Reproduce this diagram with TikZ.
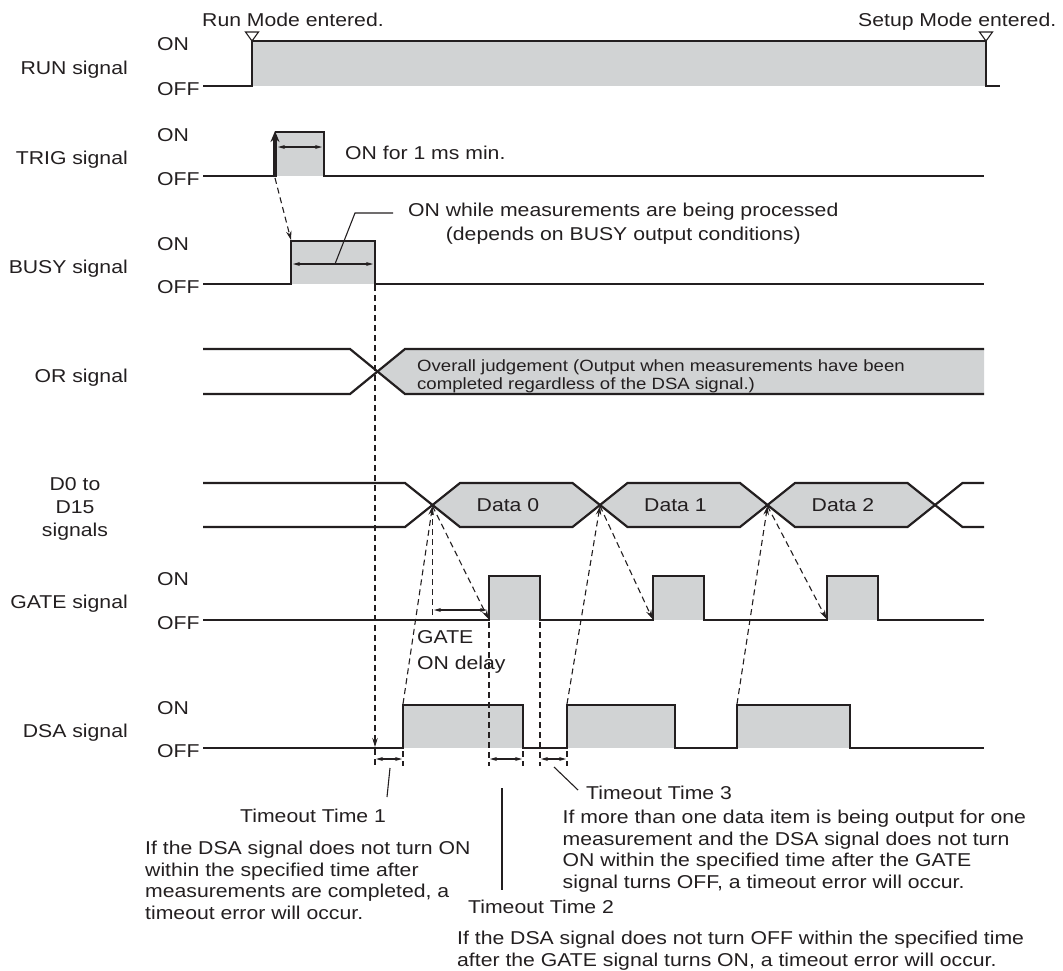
\documentclass[tikz,border=0pt]{standalone}
\usepackage{fontspec}
\setmainfont{Liberation Sans}
\usepackage{graphicx}
\usetikzlibrary{arrows.meta}
\definecolor{ink}{HTML}{231F20}
\definecolor{fillg}{HTML}{D1D3D4}
\newcommand{\sx}[1]{\scalebox{1.14}[1]{#1}}
\newcommand{\parl}[1]{\sx{\begin{tabular}[t]{@{}l@{}}#1\end{tabular}}}
\newcommand{\parc}[1]{\sx{\begin{tabular}[t]{@{}c@{}}#1\end{tabular}}}
\begin{document}
\begin{tikzpicture}[x=1pt,y=-1pt,
  sig/.style={draw=ink, line width=2.2pt, line join=miter},
  dsh/.style={draw=ink, line width=1.1pt, dash pattern=on 6pt off 4pt},
  dar/.style={dsh, -{Stealth[length=9pt,width=5.5pt]}},
  meas/.style={draw=ink, line width=1.1pt, {Stealth[length=7pt,width=4pt]}-{Stealth[length=7pt,width=4pt]}},
  lead/.style={draw=ink, line width=1.1pt},
  txt/.style={anchor=base west, inner sep=0pt, font=\fontsize{18.6}{21.5}\selectfont, text=ink},
  signame/.style={txt, anchor=base east},
  smalltxt/.style={txt, font=\fontsize{16.3}{18}\selectfont},
  modemark/.style={draw=ink, line width=1.1pt, fill=white}
]
\useasboundingbox (0,0) rectangle (1063,970);

% ---------- fills ----------
\fill[fillg] (252,41) rectangle (986,86);
\fill[fillg] (275,132) rectangle (324,176);
\fill[fillg] (291,241) rectangle (375,284);
\fill[fillg] (377.5,371.5) -- (405,349) -- (984,349) -- (984,394) -- (405,394) -- cycle;
\fill[fillg] (432.5,505) -- (460,483) -- (572.5,483) -- (600,505) -- (572.5,527) -- (460,527) -- cycle;
\fill[fillg] (600,505) -- (627.5,483) -- (740,483) -- (767.5,505) -- (740,527) -- (627.5,527) -- cycle;
\fill[fillg] (767.5,505) -- (795,483) -- (907.5,483) -- (935,505) -- (907.5,527) -- (795,527) -- cycle;
\fill[fillg] (489,576) rectangle (540,620);
\fill[fillg] (653,576) rectangle (704,620);
\fill[fillg] (827,576) rectangle (878,620);
\fill[fillg] (403,705) rectangle (523,748);
\fill[fillg] (567,705) rectangle (675,748);
\fill[fillg] (737,705) rectangle (850,748);

% ---------- named points ----------
\coordinate (trigrise) at (275,178);
\coordinate (busyrise) at (291,240);
\coordinate (busyfall) at (375,285);
\coordinate (dsaoff) at (375,747);
\coordinate (c0) at (432.5,506);
\coordinate (c1) at (600,506);
\coordinate (c2) at (767.5,506);
\coordinate (g0) at (488.5,619);
\coordinate (g1) at (652.5,619);
\coordinate (g2) at (826.5,619);
\coordinate (d0) at (403,704);
\coordinate (d1) at (567,704);
\coordinate (d2) at (737,704);

% ---------- dashed connectors ----------
\draw[dar] (trigrise) -- (busyrise);
\draw[dar] (busyfall) -- (dsaoff);
\draw[dsh] (375,749) -- (375,766);
\draw[dar] (d0) -- (c0);
\draw[dar] (d1) -- (c1);
\draw[dar] (d2) -- (c2);
\draw[dar] (c0) -- (g0);
\draw[dar] (c1) -- (g1);
\draw[dar] (c2) -- (g2);
\draw[dsh] (432.5,509) -- (432.5,620);
\draw[dsh] (489,622) -- (489,766);
\draw[dsh] (540,622) -- (540,766);
\draw[dsh] (403,751) -- (403,766);
\draw[dsh] (523,751) -- (523,766);
\draw[dsh] (567,751) -- (567,766);

% ---------- measurement arrows ----------
\draw[meas] (278,147) -- (322,147);
\draw[meas] (293,264) -- (373,264);
\draw[meas] (434,610) -- (487,610);
\draw[meas] (376,759) -- (402,759);
\draw[meas] (490,759) -- (522,759);
\draw[meas] (541,759) -- (566,759);

% ---------- signals ----------
\draw[sig] (203,86) -- (252,86) -- (252,41) -- (986,41) -- (986,86) -- (1000,86);
\draw[sig] (203,176) -- (275,176) (275,132) -- (324,132) -- (324,176) -- (984,176);
\draw[ink, line width=3.4pt, -{Stealth[length=11pt,width=9pt]}] (275,177) -- (275,131);
\draw[sig] (203,284) -- (291,284) -- (291,241) -- (375,241) -- (375,284) -- (984,284);
\draw[sig] (203,349) -- (350,349) -- (405,394) -- (984,394);
\draw[sig] (203,394) -- (350,394) -- (405,349) -- (984,349);
\draw[sig] (203,483) -- (405,483) -- (460,527) -- (572.5,527) -- (627.5,483) -- (740,483) -- (795,527) -- (907.5,527) -- (962.5,483) -- (984,483);
\draw[sig] (203,527) -- (405,527) -- (460,483) -- (572.5,483) -- (627.5,527) -- (740,527) -- (795,483) -- (907.5,483) -- (962.5,527) -- (984,527);
\draw[sig] (203,620) -- (489,620) -- (489,576) -- (540,576) -- (540,620) -- (653,620) -- (653,576) -- (704,576) -- (704,620) -- (827,620) -- (827,576) -- (878,576) -- (878,620) -- (984,620);
\draw[sig] (203,748) -- (403,748) -- (403,705) -- (523,705) -- (523,748) -- (567,748) -- (567,705) -- (675,705) -- (675,748) -- (737,748) -- (737,705) -- (850,705) -- (850,748) -- (984,748);

% mode markers
\draw[modemark] (245.5,32) -- (258.5,32) -- (252,41) -- cycle;
\draw[modemark] (979.5,32) -- (992.5,32) -- (986,41) -- cycle;

% ---------- leaders ----------
\draw[lead] (335,264) -- (355,213) -- (393,213);
\draw[lead] (390,768) -- (387,797);
\draw[lead] (502,788) -- (502,890);
\draw[lead] (554,767) -- (578,790);

% ---------- texts ----------
\node[txt] (runm) at (202,26) {\sx{Run Mode entered.}};
\node[txt] (setm) at (858,26) {\sx{Setup Mode entered.}};

\node[signame] (nrun) at (128,74) {\sx{RUN signal}};
\node[signame] (ntrig) at (128,164.5) {\sx{TRIG signal}};
\node[signame] (nbusy) at (128,273) {\sx{BUSY signal}};
\node[signame] (nor) at (128,382) {\sx{OR signal}};
\node[txt, anchor=base] (nd1) at (75,490) {\sx{D0 to}};
\node[txt, anchor=base] (nd2) at (75,513) {\sx{D15}};
\node[txt, anchor=base] (nd3) at (75,536) {\sx{signals}};
\node[signame] (ngate) at (128,608.5) {\sx{GATE signal}};
\node[signame] (ndsa) at (128,737) {\sx{DSA signal}};

\node[txt] (on1) at (157,50) {\sx{ON}};
\node[txt] (off1) at (157,95) {\sx{OFF}};
\node[txt] (on2) at (157,141) {\sx{ON}};
\node[txt] (off2) at (157,185) {\sx{OFF}};
\node[txt] (on3) at (157,250) {\sx{ON}};
\node[txt] (off3) at (157,293) {\sx{OFF}};
\node[txt] (on4) at (157,585) {\sx{ON}};
\node[txt] (off4) at (157,629) {\sx{OFF}};
\node[txt] (on5) at (157,714) {\sx{ON}};
\node[txt] (off5) at (157,757) {\sx{OFF}};

\node[txt] (t1ms) at (345,159.5) {\sx{ON for 1 ms min.}};
\node[txt] (tbusy) at (408,216.5) {\parc{ON while measurements are being processed\\[2.5pt](depends on BUSY output conditions)}};
\node[smalltxt] (tor) at (417,371) {\parl{Overall judgement (Output when measurements have been\\completed regardless of the DSA signal.)}};

\node[txt] (dat0) at (476.5,511.5) {\sx{Data 0}};
\node[txt] (dat1) at (644,511.5) {\sx{Data 1}};
\node[txt] (dat2) at (811.5,511.5) {\sx{Data 2}};

\node[txt] (gd1) at (417,643.5) {\sx{GATE}};
\node[txt] (gd2) at (417,669.5) {\sx{ON delay}};

\node[txt] (to1) at (240,822.5) {\sx{Timeout Time 1}};
\node[txt] (p1) at (145,854.5) {\parl{If the DSA signal does not turn ON\\within the specified time after\\measurements are completed, a\\timeout error will occur.}};
\node[txt] (to3) at (586,799.5) {\sx{Timeout Time 3}};
\node[txt] (p3) at (562.5,823.5) {\parl{If more than one data item is being output for one\\measurement and the DSA signal does not turn\\ON within the specified time after the GATE\\signal turns OFF, a timeout error will occur.}};
\node[txt] (to2) at (468,913.5) {\sx{Timeout Time 2}};
\node[txt] (p2) at (457,944.5) {\parl{If the DSA signal does not turn OFF within the specified time\\after the GATE signal turns ON, a timeout error will occur.}};
\end{tikzpicture}
\end{document}
